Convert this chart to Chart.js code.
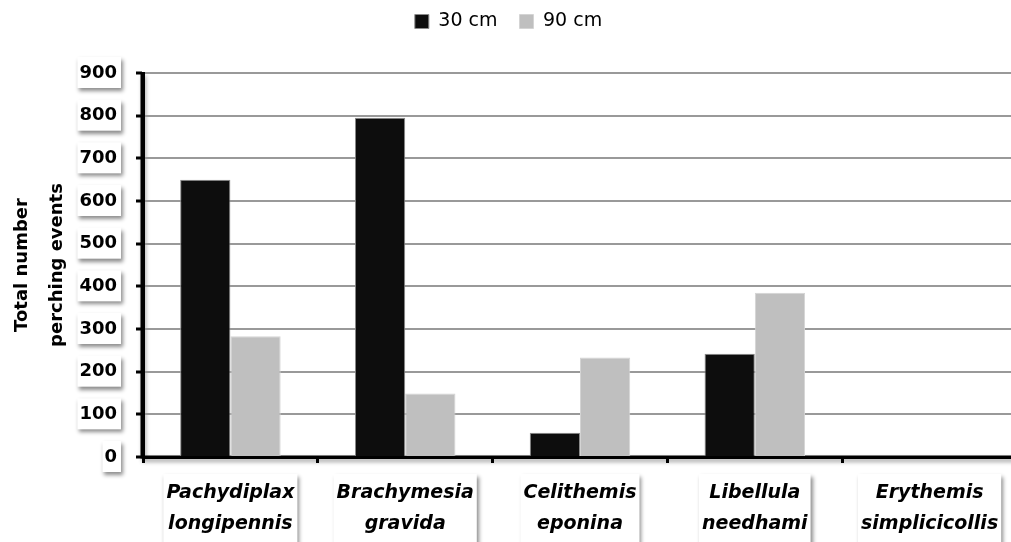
<!DOCTYPE html>
<html>
<head>
<meta charset="utf-8">
<script src="https://cdn.jsdelivr.net/npm/chart.js@4.4.1/dist/chart.umd.min.js"></script>
<style>
  html, body { margin: 0; padding: 0; background: #fff; overflow: hidden; width: 1011px; height: 542px; }
  #wrap { width: 1017px; height: 542px; position: relative; }
</style>
</head>
<body>
<div id="wrap"><canvas id="c"></canvas></div>
<script>
const categories = [
  ["Pachydiplax", "longipennis"],
  ["Brachymesia", "gravida"],
  ["Celithemis", "eponina"],
  ["Libellula", "needhami"],
  ["Erythemis", "simplicicollis"]
];
const seriesNames = ["30 cm", "90 cm"];
const values30 = [650, 795, 57, 242, 0];
const values90 = [283, 149, 233, 385, 0];
const yTicks = [0, 100, 200, 300, 400, 500, 600, 700, 800, 900];

const FONT = "'DejaVu Sans', sans-serif";
const yFont = { family: FONT, size: 18, weight: 'bold' };
const xFont = { family: FONT, size: 19, weight: 'bold', style: 'oblique', lineHeight: 1.63 };

function shadowOn(ctx) {
  ctx.shadowColor = 'rgba(0,0,0,0.45)';
  ctx.shadowBlur = 4;
  ctx.shadowOffsetX = 2;
  ctx.shadowOffsetY = 3;
}

const legendGap = {
  id: 'legendGap',
  beforeUpdate(chart) {
    const lg = chart.legend;
    if (lg && !lg._gapPatched) {
      const orig = lg.fit.bind(lg);
      lg.fit = function () { orig(); this.height += 32; };
      lg._gapPatched = true;
    }
  }
};

const boxPlugin = {
  id: 'labelBoxes',
  beforeDraw(chart) {
    const ctx = chart.ctx;
    const ys = chart.scales.y, xs = chart.scales.x;
    const ca = chart.chartArea;
    ctx.save();
    shadowOn(ctx);
    ctx.strokeStyle = '#000';
    ctx.lineWidth = 3;
    ctx.beginPath();
    ctx.moveTo(ca.left - 1, ca.top);
    ctx.lineTo(ca.left - 1, ca.bottom);
    ctx.lineTo(ca.right + 10, ca.bottom);
    ctx.stroke();
    ctx.fillStyle = '#fff';
    ctx.font = `bold ${yFont.size}px ${FONT}`;
    ys.ticks.forEach((t, i) => {
      const y = ys.getPixelForTick(i);
      const w = ctx.measureText(String(t.value)).width;
      const right = ys.right - 7 - ys.options.ticks.padding + 2;
      ctx.fillRect(right - w - 4, y - 16, w + 6, 31);
    });
    ctx.font = `oblique bold ${xFont.size}px ${FONT}`;
    xs.ticks.forEach((t, i) => {
      const x = xs.getPixelForTick(i);
      const lines = categories[i];
      const w = Math.max(...lines.map(s => ctx.measureText(s).width));
      const top = xs.top + 6 + xs.options.ticks.padding - 4;
      ctx.fillRect(x - w / 2 - 3, top, w + 6, lines.length * 31 + 8);
    });
    ctx.restore();
  }
};

new Chart(document.getElementById('c'), {
  type: 'bar',
  data: {
    labels: categories,
    datasets: [
      { label: seriesNames[0], data: values30, backgroundColor: '#0d0d0d', borderColor: '#8a8a8a', borderWidth: 1,
        categoryPercentage: 0.575, barPercentage: 1.0 },
      { label: seriesNames[1], data: values90, backgroundColor: '#bfbfbf', borderColor: '#d4d4d4', borderWidth: 1,
        categoryPercentage: 0.575, barPercentage: 1.0 }
    ]
  },
  options: {
    responsive: true,
    maintainAspectRatio: false,
    animation: false,
    layout: { padding: { top: -10, right: 0, left: 0, bottom: 0 } },
    plugins: {
      legend: {
        position: 'top',
        align: 'center',
        labels: {
          boxWidth: 14, boxHeight: 14, padding: 22,
          color: '#000',
          font: { family: FONT, size: 19 }
        }
      },
      tooltip: { enabled: false }
    },
    scales: {
      x: {
        grid: { display: true, offset: true, drawOnChartArea: false, drawTicks: true,
                tickLength: 6, tickWidth: 3, tickColor: '#000' },
        border: { display: true, color: '#000', width: 3 },
        ticks: { color: '#000', font: xFont, padding: 15, maxRotation: 0, autoSkip: false },
        afterFit(s) { s.height = 85; }
      },
      y: {
        min: 0, max: 900,
        afterBuildTicks(s) { s.ticks = yTicks.map(v => ({ value: v })); },
        grid: { color: '#999', lineWidth: 2, tickColor: '#000', tickWidth: 3, tickLength: 7, drawTicks: true },
        border: { display: true, color: '#000', width: 3 },
        ticks: { color: '#000', font: yFont, padding: 19 },
        title: {
          display: true,
          text: ['Total number', 'perching events'],
          color: '#000',
          font: { family: FONT, size: 18, weight: 'bold', lineHeight: 1.95 },
          padding: { top: 5, bottom: 0 }
        },
        afterFit(s) { s.width = 143; }
      }
    }
  },
  plugins: [legendGap, boxPlugin]
});
</script>
</body>
</html>
